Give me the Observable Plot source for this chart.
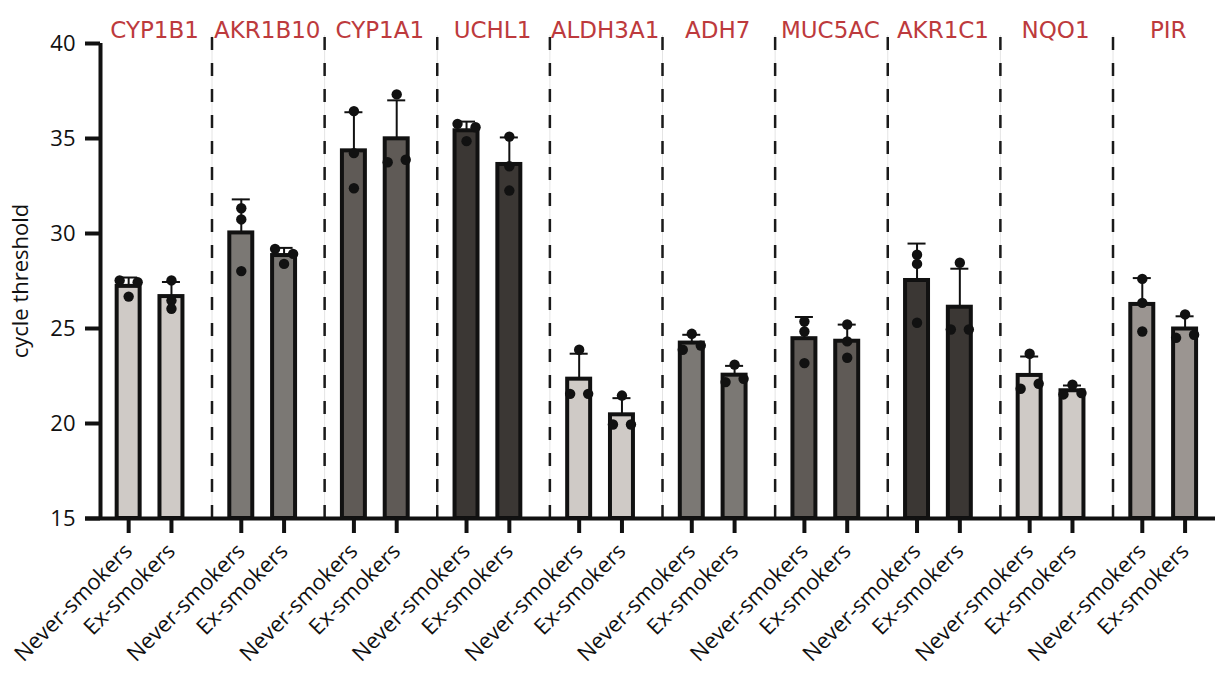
<!DOCTYPE html>
<html><head><meta charset="utf-8">
<script src="https://cdn.jsdelivr.net/npm/d3@7"></script>
<script src="https://cdn.jsdelivr.net/npm/@observablehq/plot@0.6"></script>
<style>body{margin:0;background:#fff} svg{display:block}</style>
</head><body><div id="chart"></div>
<script>
const genes = ["CYP1B1","AKR1B10","CYP1A1","UCHL1","ALDH3A1","ADH7","MUC5AC","AKR1C1","NQO1","PIR"];
const groups = ["Never-smokers","Ex-smokers"];
// replicate cycle-threshold values
const neverSmokers = [
  [27.53, 26.68, 27.44],
  [31.33, 30.74, 28.02],
  [36.44, 34.23, 32.38],
  [35.77, 34.86, 35.59],
  [23.88, 21.56, 21.56],
  [24.72, 23.88, 24.10],
  [25.37, 24.84, 23.18],
  [28.88, 28.40, 25.30],
  [23.67, 21.83, 22.09],
  [27.61, 26.35, 24.84]
];
const exSmokers = [
  [27.53, 26.47, 26.04],
  [29.19, 28.40, 28.93],
  [37.32, 33.75, 33.88],
  [35.10, 33.54, 32.26],
  [21.47, 19.95, 19.95],
  [23.10, 22.18, 22.35],
  [25.21, 24.32, 23.46],
  [28.46, 24.95, 24.95],
  [22.04, 21.53, 21.60],
  [25.74, 24.51, 24.67]
];
const fills = ["#cfcac6","#7b7874","#5f5a56","#3b3734","#cfcac6","#7b7874","#5f5a56","#3b3734","#cfcac6","#9b9591"];
const yTicks = [15,20,25,30,35,40];
const geneColor = "#bd3a3d";

// layout constants (x unit = one gene group)
const groupOffset = 0.19, barHalf = 0.102, capHalf = 0.08, jitter = 0.08;
const xDomain = [-0.44, 9.46];

function offsets(vals) {
  const idx = d3.range(vals.length).sort((a, b) => vals[a] - vals[b]);
  const clusters = []; let cur = [idx[0]];
  for (let k = 1; k < idx.length; k++) {
    if (vals[idx[k]] - vals[idx[k - 1]] < 0.41) cur.push(idx[k]);
    else { clusters.push(cur); cur = [idx[k]]; }
  }
  clusters.push(cur);
  const out = new Array(vals.length).fill(0);
  for (const c of clusters) {
    c.sort((a, b) => a - b);
    const pat = c.length === 1 ? [0] : c.length === 2 ? [-1, 1] : [-1, 0, 1];
    c.forEach((k, j) => out[k] = pat[j]);
  }
  return out;
}

const rows = genes.flatMap((g, i) => groups.map((grp, j) => {
  const vals = j ? exSmokers[i] : neverSmokers[i];
  return {gene: g, group: grp, pos: i + (j ? groupOffset : -groupOffset),
          mean: d3.mean(vals), sd: d3.deviation(vals), vals, fill: fills[i]};
}));
const points = rows.flatMap(r => {
  const o = offsets(r.vals);
  return r.vals.map((v, k) => ({x: r.pos + o[k] * jitter, v}));
});
const labelByPos = new Map(rows.map(r => [r.pos, r.group]));
const boundaries = d3.range(genes.length - 1).map(i => i + 0.55);

const chart = Plot.plot({
  width: 1215, height: 675,
  marginTop: 43, marginBottom: 157, marginLeft: 100, marginRight: 0,
  style: {fontFamily: "'Open Sans', sans-serif", background: "#fff", color: "#111"},
  x: {type: "linear", domain: xDomain, axis: null},
  y: {domain: [15, 40], axis: null},
  color: {type: "identity"},
  marks: [
    Plot.ruleX(boundaries, {y1: 15, y2: 40.42, stroke: "#e4e4e4", strokeWidth: 1}),
    Plot.ruleX(boundaries, {y1: 15, y2: 40.42, stroke: "#1a1a1a", strokeWidth: 2.5, strokeDasharray: "13,13"}),
    Plot.ruleX(rows, {x: "pos", y1: "mean", y2: d => d.mean + d.sd, stroke: "#111", strokeWidth: 2}),
    Plot.ruleY(rows, {x1: d => d.pos - capHalf, x2: d => d.pos + capHalf, y: d => d.mean + d.sd, stroke: "#111", strokeWidth: 2}),
    Plot.rectY(rows, {x1: d => d.pos - barHalf, x2: d => d.pos + barHalf, y1: 15, y2: "mean", fill: "fill", stroke: "#111", strokeWidth: 4}),
    Plot.dot(points, {x: "x", y: "v", r: 5.2, fill: "#111", stroke: "none"}),
    Plot.axisY({ticks: yTicks, tickSize: 15, tickPadding: 10, strokeWidth: 4, fontSize: 22, label: null, stroke: "#111"}),
    Plot.ruleX([xDomain[0]], {y1: 15, y2: 40, stroke: "#111", strokeWidth: 4}),
    Plot.ruleY([15], {x1: xDomain[0] - 0.133, x2: xDomain[1], stroke: "#111", strokeWidth: 4}),
    Plot.axisX({ticks: rows.map(r => r.pos), tickFormat: d => labelByPos.get(d), tickRotate: -45, tickSize: 15, tickPadding: 14, strokeWidth: 4, fontSize: 22, label: null, stroke: "#111"}),
    Plot.text(genes, {x: (d, i) => i + 0.04, frameAnchor: "top", dy: -22, text: d => d, fill: geneColor, fontSize: 23, fontFamily: "'DejaVu Sans', sans-serif"}),
    Plot.text(["cycle threshold"], {frameAnchor: "left", dx: -80, rotate: -90, textAnchor: "middle", fontSize: 22, fill: "#111"})
  ]
});
document.getElementById("chart").append(chart);
</script>
</body></html>
